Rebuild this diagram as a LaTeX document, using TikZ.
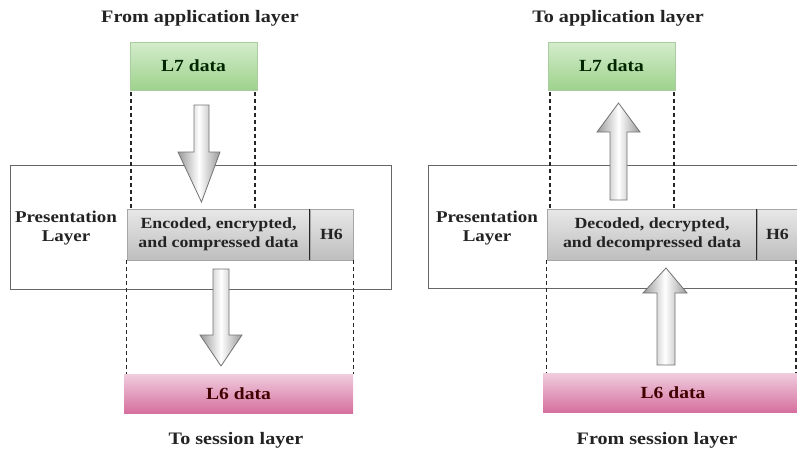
\documentclass[tikz,border=0pt]{standalone}
\usepackage{fontspec}
\setmainfont[FakeStretch=1.15]{Liberation Serif}
\definecolor{gtop}{RGB}{212,236,204}
\definecolor{gbot}{RGB}{158,210,140}
\definecolor{gedge}{RGB}{170,205,160}
\definecolor{ptop}{RGB}{240,205,222}
\definecolor{pbot}{RGB}{214,112,158}
\definecolor{btop}{RGB}{232,232,232}
\definecolor{bbot}{RGB}{190,190,190}
\definecolor{ink}{RGB}{35,35,35}
\begin{document}
\begin{tikzpicture}[x=1pt,y=-1pt,
  lbl/.style={font=\bfseries\fontsize{17.5}{19}\selectfont, text=ink},
  txt/.style={font=\bfseries\fontsize{16.5}{19}\selectfont, text=ink, align=center},
  greenbox/.style={draw=gedge, top color=gtop, bottom color=gbot, inner sep=0pt, font=\bfseries\fontsize{17}{18}\selectfont, text=green!15!black},
  pinkbox/.style={draw=none, top color=ptop, bottom color=pbot, inner sep=0pt, font=\bfseries\fontsize{17}{18}\selectfont, text=red!25!black},
  graybox/.style={draw=black!35, top color=btop, bottom color=bbot, inner sep=0pt, align=center, font=\bfseries\fontsize{15.5}{19}\selectfont, text=ink},
  layerbox/.style={draw=black!60, line width=0.9pt, fill=white, inner sep=0pt},
  divider/.style={line width=1.3pt, black!85},
  dline/.style={dashed, dash pattern=on 4pt off 3pt, line width=1.3pt, black!85},
  blockarrow/.style={draw=black!55, line width=0.8pt, left color=black!40, right color=black!40, middle color=white}
]
\useasboundingbox (0,0) rectangle (797,451);
\clip (0,0) rectangle (797,451);

% ---------------- Left panel ----------------
\node[lbl] (ttlL) at (200,18) {From application layer};
\node[greenbox, minimum width=127pt, minimum height=48pt] (l7L) at (193.5,66) {L7 data};
\node[layerbox, minimum width=381pt, minimum height=124pt] (presL) at (200.5,227) {};
\node[txt] (ptxtL) at (66,228) {Presentation\\Layer};
\node[graybox, minimum width=183pt, minimum height=51pt] (encL) at (218.5,234.5) {Encoded, encrypted,\\and compressed data};
\node[graybox, minimum width=43pt, minimum height=51pt] (h6L) at (331.5,234.5) {H6};
\draw[divider] (h6L.north west) -- (h6L.south west);
\node[pinkbox, minimum width=229pt, minimum height=39pt] (l6L) at (238.5,393.5) {L6 data};
\node[lbl] (botL) at (236,440) {To session layer};

\coordinate (a1) at (131,92); \coordinate (a2) at (131,209);
\coordinate (a3) at (255,92); \coordinate (a4) at (255,209);
\draw[dline] (a1) -- (a2);
\draw[dline] (a3) -- (a4);
\draw[dline] (encL.south west) -- (encL.south west |- l6L.north);
\draw[dline] (h6L.south east) -- (h6L.south east |- l6L.north);

\draw[blockarrow] (194,105) -- (209,105) -- (209,152) -- (220,152) -- (201.5,202) -- (178,152) -- (194,152) -- cycle;
\draw[blockarrow] (213,269) -- (229,269) -- (229,335) -- (242,335) -- (221,366) -- (200,335) -- (213,335) -- cycle;

% ---------------- Right panel ----------------
\node[lbl] (ttlR) at (618,18) {To application layer};
\node[greenbox, minimum width=127pt, minimum height=48pt] (l7R) at (611.5,66) {L7 data};
\node[layerbox, minimum width=392pt, minimum height=123pt] (presR) at (624,226.5) {};
\node[txt] (ptxtR) at (487,228) {Presentation\\Layer};
\node[graybox, minimum width=210pt, minimum height=51pt] (decR) at (652,234.5) {Decoded, decrypted,\\and decompressed data};
\node[graybox, minimum width=41pt, minimum height=51pt] (h6R) at (777.5,234.5) {H6};
\draw[divider] (h6R.north west) -- (h6R.south west);
\node[pinkbox, minimum width=260pt, minimum height=39pt] (l6R) at (673,392.5) {L6 data};
\node[lbl] (botR) at (657,440) {From session layer};

\coordinate (b1) at (550,92); \coordinate (b2) at (550,209);
\coordinate (b3) at (674,92); \coordinate (b4) at (674,209);
\draw[dline] (b1) -- (b2);
\draw[dline] (b3) -- (b4);
\draw[dline] (decR.south west) -- (decR.south west |- l6R.north);
\coordinate (b5) at (796,260); \coordinate (b6) at (796,373);
\draw[dline] (b5) -- (b6);

\draw[blockarrow] (610,200) -- (627,200) -- (627,132) -- (640,132) -- (618.5,103) -- (597,132) -- (610,132) -- cycle;
\draw[blockarrow] (657,365) -- (675,365) -- (675,293) -- (687,293) -- (666,268) -- (643,293) -- (657,293) -- cycle;
\end{tikzpicture}
\end{document}
